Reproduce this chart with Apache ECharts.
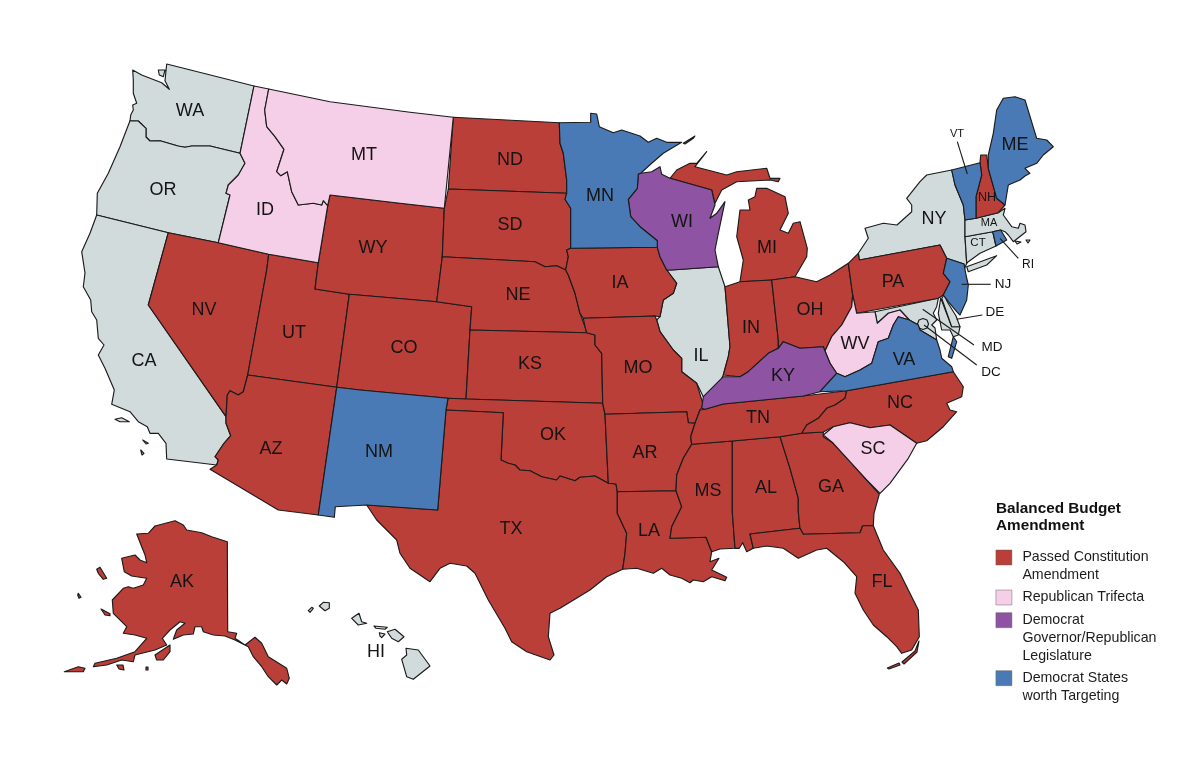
<!DOCTYPE html>
<html><head><meta charset="utf-8">
<style>html,body{margin:0;padding:0;background:#fff}#c{width:1200px;height:768px}</style>
<script src="https://cdn.jsdelivr.net/npm/echarts@6/dist/echarts.min.js"></script>
</head><body><div id="c"></div>
<script>
// Categories
const legendTitle = 'Balanced Budget\nAmendment';
const categoryNames = ['Passed Constitution\nAmendment','Republican Trifecta','Democrat\nGovernor/Republican\nLegislature','Democrat States\nworth Targeting'];
const passedStates = ['AK','NV','UT','AZ','WY','CO','ND','SD','NE','KS','OK','TX','IA','MO','AR','LA','MS','AL','GA','FL','TN','NC','MI','IN','OH','PA','NH'];
const trifectaStates = ['ID','MT','WV','SC'];
const dividedStates = ['WI','KY'];
const targetStates = ['MN','NM','VA','NJ','ME','VT','RI'];
const otherStates = ['WA','OR','CA','IL','NY','CT','MA','MD','DE','DC','HI'];
const colors = {passed:'#BB3F39',trifecta:'#F5CEE7',divided:'#8E53A3',target:'#4A7AB5',other:'#D2DBDC'};
const smallLabelSize = {VT:11,NH:12.5,MA:11,CT:11.5,RI:12,NJ:13.5,DE:13.5,MD:13.5,DC:13.5};

// State outlines (multiple rings separated by |)
const outlines = {
WA:'166.7,64 254,86 240,153.3 210,146 191.7,146 185,147.3 178,146 160,140.7 150,141 146,137 146,128.3 138.3,121 130,120.7 130.7,115 133.3,110 132.7,105 136.7,103.3 133.3,93.3 133.3,80 132.7,70 141.7,75 161.7,82.7 169.3,89.3 165,80.7|158.3,70 165,70 163.3,76.7 159.3,75',
OR:'130,120.7 138.3,121 146,128.3 146,137 150,141 160,140.7 178,146 185,147.3 191.7,146 210,146 240,153.3 245,163.3 238.3,175 228.3,185 226,193.3 230,195 218.3,242.7 168.3,232.7 96.7,215 97.3,193.3 108.3,173.3 120,146.7',
ID:'254,86 268.7,89 264.7,110 266.7,126.7 275,136.7 284,149.3 276.7,171.7 280.7,175.7 287.3,171.7 291.7,191.7 298.3,205 313.3,203.3 321.7,205 323.3,200.7 327.7,205.7 318.3,262.7 268.7,254.3 218.3,242.7 230,195 226,193.3 228.3,185 238.3,175 245,163.3 240,153.3',
MT:'268.7,89 330,101.7 410,112.3 453.3,117.3 444.3,208.3 400,203.3 330,195 327.7,205.7 323.3,200.7 321.7,205 313.3,203.3 298.3,205 291.7,191.7 287.3,171.7 280.7,175.7 276.7,171.7 284,149.3 275,136.7 266.7,126.7 264.7,110',
WY:'330,195 400,203.3 444.3,208.3 442.3,256.7 436.7,301.7 349.3,294.3 315,289 318.3,262.7 327.7,205.7',
NV:'168.3,232.7 218.3,242.7 268.7,254.3 266.7,270 247.7,375 243.3,391.7 238.3,395 230,390.7 227.3,395 226,416.7 148.3,305',
CA:'96.7,215 168.3,232.7 148.3,305 226,416.7 226,423.3 230.7,435.7 224,443.3 218.3,451.7 215,456.7 218.3,460 216.7,465 166.7,459 166,443.3 158.3,433.3 150,433.3 147.3,426.7 138.3,421.7 130,411.7 111.7,404.3 114.3,390 105,368.3 98.3,355 104,345 98.3,338.3 96.7,320 91.7,311.7 90.7,300 83.3,286.7 85,273 81.7,251.7 90,233.3|115,419.3 121.7,417.7 129.3,421.7 120,421.7|142.7,440 148.3,443.3 146,444|140.7,450 144,453.3 142,455',
UT:'268.7,254.3 318.3,262.7 315,289 349.3,294.3 336.7,387.3 247.7,375 266.7,270',
CO:'349.3,294.3 436.7,301.7 471.7,306.7 470,330 466,399 448,398.3 360,390 336.7,387.3',
NM:'336.7,387.3 360,390 448,398.3 446,410 437.7,510 366.7,505 335.3,506.7 334.3,517.3 318.3,515',
AZ:'247.7,375 336.7,387.3 318.3,515 278.3,510 210,469.3 216.7,465 218.3,460 215,456.7 218.3,451.7 224,443.3 230.7,435.7 226,423.3 226,416.7 227.3,395 230,390.7 238.3,395 243.3,391.7',
TX:'446,410 503.3,412.7 501,460 508.3,463.3 515,465 520,470 530,470.7 541.7,476.7 556.7,480 560,476 575,480.7 580,477.3 595,476 608.3,483.3 616,484 617.3,491.7 617.3,513.3 626.7,533.3 625,553.3 622.7,569.3 606.7,576.7 590,590 560,608.3 550,613.3 548.3,636.7 554,655 550,660 526.7,651.7 511.7,641.7 505,628.3 488.3,600 475,573.3 466.7,566 450,563.3 440,568.3 430,581.7 410,568.3 400,553.3 396.7,540 376.7,520 366.7,505 437.7,510',
OK:'448,398.3 466,399 602.7,403.3 605,414.3 608.3,483.3 595,476 580,477.3 575,480.7 560,476 556.7,480 541.7,476.7 530,470.7 520,470 515,465 508.3,463.3 501,460 503.3,412.7 446,410',
KS:'470,330 586.7,332.7 595,335 595,345 601.7,353.3 602.7,403.3 466,399',
NE:'442.3,256.7 535,261.7 545,266.7 556.7,265.7 565.7,270 568.3,275 575,293.3 580,313.3 585,326.7 586.7,332.7 470,330 471.7,306.7 436.7,301.7',
SD:'448.3,189 566.7,193.3 565,199.3 570.7,208.3 570.7,248.3 566.7,250 568.3,256.7 565.7,270 556.7,265.7 545,266.7 535,261.7 442.3,256.7 444.3,208.3',
ND:'453.3,117.3 559.3,122.7 560,143.3 563.3,153.3 566.7,180 566.7,193.3 448.3,189',
MN:'559.3,122.7 590.7,122.3 590.7,113.3 596.7,114 599.3,126.7 613.3,132.7 621.7,130 640,136 648.3,142.3 656.7,138.3 666.7,142.3 681.7,142.3 663.3,153.3 651.7,163.3 640.7,173.3 638.3,174 637.3,188.3 628.3,199.3 630.7,216.7 640,226.7 657.3,240.7 657.3,247.3 570.7,248.3 570.7,208.3 565,199.3 566.7,193.3 566.7,180 563.3,153.3 560,143.3|683.3,143.3 695,136 693.3,138.3 685,144',
IA:'570.7,248.3 657.3,247.3 660,256.7 666.7,270 676.7,283.3 673.3,293.3 663.3,300 660,316.7 655,316 583.3,318.3 580,313.3 575,293.3 568.3,275 565.7,270 568.3,256.7 566.7,250',
MO:'583.3,318.3 655,316 656.7,320 660,331.7 673.3,350 681.7,358.3 681.7,371.7 696.7,383.3 703.3,405 700,410 695,423.3 688.3,422.7 686.7,411.7 605,414.3 602.7,403.3 601.7,353.3 595,345 595,335 586.7,332.7 585,326.7',
AR:'605,414.3 686.7,411.7 688.3,422.7 695,423.3 690.7,436.7 691.7,444.3 683.3,458.3 676.7,475 676,490.7 617.3,491.7 616,484 608.3,483.3',
LA:'617.3,491.7 676,490.7 681.7,506.7 671.7,526.7 670,538.3 706,537.3 711.7,551.7 710,561.7 719,558.3 711.7,570 726.7,577.3 725,580.7 711.7,576.7 703.3,581.7 693.3,580 690,582.7 681.7,578.3 670,575 661.7,568.3 653.3,573.3 636.7,568.3 622.7,569.3 625,553.3 626.7,533.3 617.3,513.3',
MS:'691.7,444.3 732.3,441 732.3,511.7 735,548.3 720,549 711.7,551.7 706,537.3 670,538.3 671.7,526.7 681.7,506.7 676,490.7 676.7,475 683.3,458.3',
TN:'700,410 705,409.3 723.3,404 803.3,396 846.7,390.7 845,398.3 835,405 826.7,408.3 818.3,418.3 806.7,425 801.7,433.3 780,436.7 732.3,441 691.7,444.3 690.7,436.7 695,423.3',
AL:'732.3,441 780,436.7 790,468.3 798.3,498.3 798.3,511.7 800,528.3 750,534 753.3,548.3 750,550 746.7,551.7 742.7,542.7 739.3,548.3 735,548.3 732.3,511.7',
GA:'780,436.7 801.7,433.3 823.3,432 823.3,436.7 833.3,443.3 850,461.7 866.7,480 879.3,494 874,513.3 873.3,525.7 862.7,525.7 860,532.7 803.3,534.3 800,528.3 798.3,511.7 798.3,498.3 790,468.3',
SC:'823.3,435 833.3,426.7 850,422.7 870,427.7 890,425 916.7,443.3 908.3,458.3 890,483.3 880,493.3 866.7,480 850,461.7 833.3,443.3',
NC:'846.7,390.7 953.3,371.7 963.3,386.7 961.7,396.7 946.7,403.3 950,410 956.7,411.7 943.3,426.7 926.7,440.7 916.7,443.3 890,425 870,427.7 850,422.7 833.3,426.7 823.3,432 801.7,433.3 806.7,425 818.3,418.3 826.7,408.3 835,405 845,398.3',
FL:'750,534 800,528.3 803.3,534.3 860,532.7 862.7,525.7 873.3,525.7 883.3,550 900,573.3 918.3,610 919.3,636.7 911.7,650 901.7,653.3 896.7,646.7 886.7,636.7 873.3,625 863.3,610 855,593.3 856.7,576.7 843.3,561.7 826.7,548.3 816.7,550 798.3,558.3 783.3,548.3 766.7,546 753.3,548.3|887.3,668 899,663 900,665 889,669|902,662 915,651 919,641 920,641 917,652 904,664',
KY:'703.3,396.7 723.3,376.7 740,376.7 748.3,371.7 768.3,353.3 778.3,348.3 783.3,341.7 800,348.3 823.3,346.7 825,351 830,363.3 836.7,373.3 820,391.7 803.3,396 723.3,404 705,409.3 701.7,408.3',
IL:'671.7,270 718.3,266.7 725,286.7 730,346.7 728.3,356.7 723.3,375 715,393.3 703.3,396.7 696.7,383.3 681.7,371.7 681.7,358.3 673.3,350 660,331.7 656.7,320 660,316.7 663.3,300 673.3,293.3 676.7,283.3 666.7,270',
WI:'671.7,270 718.3,266.7 715,250 718.3,233.3 725,201.7 716.7,213.3 710,218.3 715,205 711.7,190 670,178.3 661.7,174.3 660,166.7 651.7,171.7 640.7,173.3 638.3,174 637.3,188.3 628.3,199.3 630.7,216.7 640,226.7 657.3,240.7 657.3,247.3 660,256.7 666.7,270',
MI:'670,178.3 676.7,170 690,163.3 696.7,163.3 706.7,151.7 695,166.7 726.7,175 736.7,171.7 766.7,168.3 770,178.3 780,178.3 778.3,181.7 770,180 736.7,181.7 721.7,190 715,203.3 711.7,190|740,281.7 771.7,280 795,276.7 806.7,256.7 807.3,248.3 800,221.7 793.3,223.3 788.3,233.3 780,230 788.3,213.3 785,196.7 766.7,188.3 756.7,188.3 755,196.7 748.3,200 750,210 740,210 736.7,236.7 743.3,260',
IN:'725,286.7 740,281.7 771.7,280 778.3,340 778.3,348.3 768.3,353.3 748.3,371.7 740,376.7 723.3,375 728.3,356.7 730,346.7',
OH:'771.7,280 795,276.7 816.7,281.7 830,275 848.3,263.3 852.7,295 851.7,306.7 841.7,325 831.7,336.7 825,351 823.3,346.7 800,348.3 783.3,341.7 778.3,348.3 778.3,340',
WV:'852.7,295 856.7,313.3 875,311.7 877.3,323.3 888.3,313.3 900,310 909.3,320 898.3,316.7 893.3,325 888.3,338.3 878.3,341.7 871.7,363.3 860,370 845,376.7 836.7,373.3 830,363.3 825,351 831.7,336.7 841.7,325 851.7,306.7',
VA:'820,391.7 836.7,373.3 845,376.7 860,370 871.7,363.3 878.3,341.7 888.3,338.3 893.3,325 898.3,316.7 909.3,320 918.3,325 920,330 936.7,340 940,350 941.7,358.3 951.7,366.7 953.3,371.7 846.7,390.7|953.3,336.7 948.3,356.7 951.7,358.3 956.7,341.7',
MD:'875,311.7 938.3,298.3 936.7,306.7 933.3,313.3 936.7,320 931.7,325 935,328 936.7,340 920,330 918.3,325 909.3,320 900,310 888.3,313.3 877.3,323.3|940.7,298 951.7,326.7 960,326.7 958.3,335 953.3,336.7 950,330 941.7,330 938.3,313.3',
DE:'941.7,298.3 944,295 948,303 956,316 960,326.7 951.7,326.7',
DC:'923,318.5 927,320 928.5,324 927,328 923,329.5 919,328 917.5,324 919,320',
PA:'848.3,263.3 858.3,253.3 859.3,260 940,245 946.7,258.3 943.3,273.3 950,281.7 943.3,295 938.3,298.3 856.7,313.3 852.7,295',
NY:'859.3,260 858.3,253.3 868.3,238.3 865,228.3 883.3,223.3 897,225 911.7,211.7 911.7,205 906.7,198.3 920,181.7 926.7,175 951.7,170 955,185 963.3,205 965,220 965,236.7 966.7,263.3 964,270 964,264 946.7,258.3 940,245|966.7,266.7 996.7,255.7 986.7,265 968.3,271.7',
NJ:'946.7,258.3 964,264 966,275 968.3,285 966.7,300 960,315 956.7,311.7 948.3,301.7 943.3,295 950,281.7 943.3,273.3',
VT:'951.7,170 980,162.7 981.7,175 976,196.7 976,218.3 965,220 963.3,205 955,185',
NH:'980.7,155 986.7,155 988.3,168.3 996.7,198.3 1005,205 998.3,212.7 976,218.3 976,196.7 981.7,175 980,162.7',
ME:'988.3,155 993.3,133.3 996.7,110 1003.3,98.3 1015,96.7 1025,100 1036.7,138.3 1046.7,140 1053.3,146.7 1043.3,155 1036.7,163.3 1025,168.3 1030,173.3 1025,176 1020,180 1008.3,185 1005,205 996.7,198.3 988.3,168.3',
MA:'965,220 976,218.3 998.3,212.7 1005,208.3 1003.3,215 1011.7,226.7 1018.3,228.3 1020,223.3 1025,225 1026,231.7 1013.3,241.7 1008.3,235 1005,231.7 1000.7,230 992.7,231.7 965,236.7|1015,241 1021,242 1017,244|1026,240 1030,240 1028,243',
CT:'965,236.7 992.7,231.7 996,246 980,253.3 968.3,261.7 966.7,263.3',
RI:'992.7,231.7 1000.7,230 1006.7,240 996,246',
AK:'136.7,534 148.3,533.3 155,526 175,520.7 183.3,525 186.7,530 201.7,532.7 211.7,536.7 227.3,541.7 227.7,631.7 236.7,633.3 235,638.3 245,645 255,637.3 261.7,643.3 268.3,656.7 286.7,668.3 289.3,678.3 286.7,684 281.7,680 276.7,685 268.3,676.7 261.7,666.7 253.3,656.7 248.3,646.7 235,640 225,636 213.3,635 203.3,631.7 201.7,626.7 195,626.7 193.3,634 183.3,635 173.3,639.3 176.7,630 185,623.3 180,621.7 170,630 162.3,638.3 166.7,645 155,650 135,655 133.3,661.7 121.7,660 106.7,665 93.3,666.7 95,663.3 116.7,658.3 135,651.7 146.7,638.3 135,635 123.3,633.3 126.7,626.7 113.3,613.3 112.3,600 123.3,588.3 128.3,586.7 133.3,588.3 143.3,585 146.7,578.3 131.7,576 124.3,571.7 121.7,558.3 135,555 140,560 146.7,562.7 145,555|96.7,569.3 100,567.3 106.7,578.3 103.3,579.3 98.3,573.3|78.3,593.3 81,597.3 79,598.3 77.7,595|101,609 110,613.7 110,615.7 105,615|155,655 170,645 170,651.7 163.3,660 156.7,660|116.7,665 123,665 124,670 119,669|146,667 148,667 148,670 146,670|64.3,671.7 78.3,666.7 85,668.3 83.3,671.7 75,671.7',
HI:'406,648.3 418.3,650 430,666 413.3,679.3 406.7,676.7 401.7,659.3 406.7,655|387.3,631.7 395,629.3 404,636.7 398.3,641.7 391.7,638.3|374,626 387.3,627.3 385,629.3 376,628.3|379.3,632.7 385,634 381.7,637.7 380,636|351.7,618.3 359,613.3 361.7,621.7 366.7,623.3 358.3,625|319.3,606 323.3,602.3 329.3,602.7 329.3,608.3 325,610.7|308.3,610.7 311.7,607.3 313.3,608.3 310,612.3'
};
const labelAt = {WA:[190,111],OR:[163,190],CA:[144,361],NV:[204,310],ID:[265,210],MT:[364,155],WY:[373,248],UT:[294,333],AZ:[271,449],CO:[404,348],NM:[379,452],ND:[510,160],SD:[510,225],NE:[518,295],KS:[530,364],OK:[553,435],TX:[511,529],MN:[600,196],IA:[620,283],MO:[638,368],AR:[645,453],LA:[649,531],WI:[682,222],IL:[701,356],MI:[767,248],IN:[751,328],OH:[810,310],KY:[783,376],TN:[758,418],MS:[708,491],AL:[766,488],GA:[831,487],FL:[882,582],SC:[873,449],NC:[900,403],VA:[904,360],WV:[855,344],PA:[893,282],NY:[934,219],ME:[1015,145],NH:[987,198],MA:[989,223],CT:[978,243],VT:[957,134],RI:[1028,265],NJ:[1003,284],DE:[995,312],MD:[992,347],DC:[991,372],AK:[182,582],HI:[376,652]};
const leaderLines = [[957.3,141.7,967.3,174],[961.7,284.3,990.7,284.3],[1000,238.3,1018.3,258.3],[956.7,319.3,982.3,315],[922.7,309.3,974,345],[924,325,976.7,365]];

const H = 768, W = 1200;
function feature(name){
  const rings = outlines[name].split('|').map(r => [r.trim().split(/\s+/).map(p => { const a = p.split(','); return [+a[0], H - (+a[1])]; })]);
  rings.forEach(r => r[0].push(r[0][0].slice()));
  return {type:'Feature',properties:{name:name,cp:[labelAt[name][0],H-labelAt[name][1]]},geometry:{type:'MultiPolygon',coordinates:rings}};
}
function makeSeries(seriesName, mapName, states, color){
  echarts.registerMap(mapName,{type:'FeatureCollection',features:states.map(feature)});
  return {
    type:'map',name:seriesName,map:mapName,silent:true,selectedMode:false,aspectScale:1,showLegendSymbol:false,
    boundingCoords:[[0,H],[W,0]],layoutCenter:['50%','50%'],layoutSize:W,
    itemStyle:{color:color,areaColor:color,borderColor:'#1b1b1b',borderWidth:1.15,borderJoin:'round'},
    emphasis:{disabled:true},
    label:{show:true,position:'inside',color:'#141414',fontFamily:'"Liberation Sans",Arial,sans-serif',fontSize:18},
    data:states.map(s => ({name:s,value:1,label:smallLabelSize[s]?{fontSize:smallLabelSize[s]}:undefined}))
  };
}
const series = [
  makeSeries('Other','mapOther',otherStates,colors.other),
  makeSeries(categoryNames[0],'mapPassed',passedStates,colors.passed),
  makeSeries(categoryNames[1],'mapTrifecta',trifectaStates,colors.trifecta),
  makeSeries(categoryNames[2],'mapDivided',dividedStates,colors.divided),
  makeSeries(categoryNames[3],'mapTarget',targetStates,colors.target)
];
const legendSwatchColors = [colors.passed,colors.trifecta,colors.divided,colors.target];
const legendTops = [550,590,612.7,670.7];
const legendLines = [2,1,3,2];
const legends = categoryNames.map((n,i) => {
  const blanks = legendLines[i]-1;
  return {
    data:[{name:n,itemStyle:{color:legendSwatchColors[i],borderColor:'rgba(90,90,90,0.55)',borderWidth:0.8}}],
    left:995.5, top:legendTops[i]+7.5-(blanks*2+1)*9, orient:'vertical',
    itemWidth:16,itemHeight:15,itemGap:0,selectedMode:false,padding:0,icon:'rect',
    formatter:(name)=>'\n'.repeat(blanks)+name,
    textStyle:{fontFamily:'"Liberation Sans",Arial,sans-serif',fontSize:14.2,lineHeight:18,color:'#1c1c1c',padding:[0,0,0,5.5]}
  };
});
const chart = echarts.init(document.getElementById('c'),null,{renderer:'canvas',width:W,height:H});
chart.setOption({
  animation:false,backgroundColor:'#fff',
  title:{text:legendTitle,left:996,top:500,padding:0,textStyle:{fontFamily:'"Liberation Sans",Arial,sans-serif',fontSize:15.3,fontWeight:'bold',lineHeight:17.5,color:'#111'}},
  legend:legends,
  series:series,
  graphic:leaderLines.map(l => ({type:'line',silent:true,z:100,shape:{x1:l[0],y1:l[1],x2:l[2],y2:l[3]},style:{stroke:'#1b1b1b',lineWidth:1.1}}))
});
</script></body></html>
